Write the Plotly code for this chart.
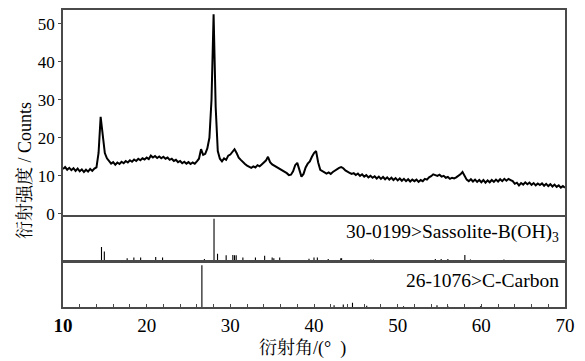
import numpy as np
import plotly.graph_objects as go

# ---------------- data ----------------
angle_start, angle_stop = 10.0, 70.0
counts = [
    11.8, 12.3, 11.6, 12.1,  11.5, 12.0, 11.3, 11.9,  11.2, 11.7, 11.0, 11.6,
    11.1, 11.8, 11.3, 11.9,  12.2, 16.0, 25.5, 20.5,  16.0, 14.6, 13.8, 13.2,
    13.6, 12.9, 13.5, 13.1,  13.7, 13.3, 13.9, 13.5,  14.1, 13.7, 14.3, 13.9,
    14.5, 14.1, 14.6, 14.3,  14.8, 14.4, 15.3, 14.8,  15.2, 14.7, 15.1, 14.6,
    15.0, 14.5, 14.8, 14.2,  14.5, 13.9, 14.2, 13.6,  13.9, 13.3, 13.7, 13.2,
    13.6, 13.1, 13.5, 13.2,  13.8, 14.5, 17.0, 15.5,  15.8, 17.2, 20.0, 30.0,
    52.5, 28.0, 16.5, 14.5,  13.8, 14.6, 14.2, 15.3,  15.6, 16.4, 17.0, 16.0,
    14.8, 14.2, 13.6, 13.1,  12.7, 12.4, 12.1, 12.5,  12.2, 12.8, 12.5, 13.0,
    13.4, 14.0, 15.0, 13.6,  13.0, 12.7, 12.2, 12.0,  11.7, 11.5, 11.0, 10.7,
    10.2, 10.3, 11.2, 12.8,  13.4, 11.2, 9.8, 10.5,   12.2, 13.2, 13.8, 15.0,
    16.0, 16.5, 13.5, 11.6,  11.2, 11.0, 10.6, 10.9,  10.5, 11.0, 11.4, 11.8,
    12.1, 12.3, 12.0, 11.4,  11.0, 10.8, 10.5, 10.7,  10.2, 10.6, 10.0, 10.4,
    9.8, 10.2, 9.6, 10.0,    9.5, 9.9, 9.3, 9.8,      9.2, 9.7, 9.1, 9.6,
    9.0, 9.5, 8.9, 9.4,      8.8, 9.3, 8.7, 9.2,      8.6, 9.1, 8.5, 9.0,
    8.6, 9.0, 8.4, 8.9,      8.6, 9.2, 9.0, 9.6,      9.9, 10.4, 10.2, 10.0,
    10.3, 9.8, 10.0, 9.5,    9.7, 9.2, 9.5, 9.3,      9.6, 9.9, 10.4, 11.0,
    10.0, 9.0, 8.6, 9.1,     8.5, 9.0, 8.4, 8.9,      8.3, 8.9, 8.2, 8.8,
    8.3, 8.9, 8.4, 9.0,      8.5, 9.1, 8.6, 9.2,      8.7, 9.2, 8.9, 8.6,
    7.9, 8.2, 7.5, 8.1,      7.7, 8.3, 7.8, 8.2,      7.6, 8.1, 7.5, 8.0,
    7.6, 8.0, 7.4, 7.9,      7.3, 7.8, 7.2, 7.7,      7.1, 7.5, 6.9, 7.3,
    6.9,
]
two_theta = np.linspace(angle_start, angle_stop, len(counts))

sassolite_pos = [14.60, 14.94, 17.67, 18.47, 19.28, 21.08, 21.90, 26.90, 28.05, 28.47,
                 29.50, 30.30, 30.50, 30.70, 31.50, 33.00, 34.10, 35.00, 35.20, 35.90,
                 39.40, 40.00, 40.40, 41.70, 43.20, 43.30, 46.80, 47.10, 54.50, 55.20,
                 56.00, 58.03, 58.70, 62.70]
sassolite_int = [32, 21, 5, 7, 7, 8, 7, 3, 100, 16,
                 12, 13, 12, 12, 7, 7, 11, 7, 5, 7,
                 4, 7, 7, 3, 5, 5, 2, 2, 3, 3,
                 3, 13, 2, 2]

carbon_pos = [26.60, 42.40, 43.50, 44.60, 46.30, 50.70, 54.70, 56.00, 59.90]
carbon_int = [100, 4, 6, 10, 3, 2, 4, 2, 2]

x_ticks = [10, 20, 30, 40, 50, 60, 70]
x_tick_text = ["<b>10</b>", "20", "30", "40", "50", "60", "70"]
x_tick_step = 2
y_ticks = [0, 10, 20, 30, 40, 50]

sassolite_label = "30-0199>Sassolite-B(OH)<sub>3</sub>"
carbon_label = "26-1076>C-Carbon"
y_title = "衍射强度 / Counts"
x_title = "衍射角/(°  )"

# ---------------- helpers ----------------
def sticks(pos, inten):
    xs, ys = [], []
    for p, h in zip(pos, inten):
        xs += [p, p, None]
        ys += [0, h, None]
    return xs, ys

label_of = dict(zip(x_ticks, x_tick_text))
all_ticks = list(range(x_ticks[0], x_ticks[-1] + 1, x_tick_step))
all_text = [label_of.get(t, "") for t in all_ticks]

FONT = "Liberation Serif, Times New Roman, Noto Serif CJK SC, Noto Sans CJK SC, serif"
AX = "#4a4a4a"

fig = go.Figure()
fig.add_trace(go.Scatter(x=two_theta, y=counts, mode="lines",
                         line=dict(color="black", width=2.0),
                         xaxis="x", yaxis="y", showlegend=False))
sx, sy = sticks(sassolite_pos, sassolite_int)
fig.add_trace(go.Scatter(x=sx, y=sy, mode="lines", line=dict(color="black", width=1.1),
                         xaxis="x2", yaxis="y2", showlegend=False))
cx, cy = sticks(carbon_pos, carbon_int)
fig.add_trace(go.Scatter(x=cx, y=cy, mode="lines", line=dict(color="black", width=1.1),
                         xaxis="x3", yaxis="y3", showlegend=False))

H = 299.0
dom_main = [93 / H, 1.0]
dom_s = [47 / H, 91 / H]
dom_c = [0.0, 44 / H]

box = dict(showline=True, linecolor=AX, linewidth=1.7, mirror=True, showgrid=False,
           zeroline=False)

fig.update_layout(
    width=585, height=361,
    margin=dict(l=63, r=20, t=8, b=54),
    paper_bgcolor="white", plot_bgcolor="white",
    font=dict(family=FONT, color="black", size=17),
    xaxis=dict(range=[10, 70], domain=[0, 1], anchor="y", showticklabels=False,
               ticks="", **box),
    xaxis2=dict(range=[10, 70], domain=[0, 1], anchor="y2", showticklabels=False,
                ticks="", **box),
    xaxis3=dict(range=[10, 70], domain=[0, 1], anchor="y3", tickmode="array",
                tickvals=all_ticks, ticktext=all_text, ticks="inside", ticklen=3,
                tickwidth=1.2, tickcolor=AX,
                tickfont=dict(family=FONT, size=19, color="black"), **box),
    yaxis=dict(range=[-0.2, 53.6], domain=dom_main, anchor="x", tickmode="array",
               tickvals=y_ticks, ticks="outside", ticklen=3, tickcolor=AX,
               tickfont=dict(family=FONT, size=17, color="black"), **box),
    yaxis2=dict(range=[0, 105], domain=dom_s, anchor="x2", showticklabels=False,
                ticks="", **box),
    yaxis3=dict(range=[0, 105], domain=dom_c, anchor="x3", showticklabels=False,
                ticks="", **box),
    annotations=[
        dict(text=sassolite_label, xref="paper", yref="paper", x=0.993, y=(307 - 233) / H,
             xanchor="right", yanchor="middle", showarrow=False,
             font=dict(family=FONT, size=19.5, color="black")),
        dict(text=carbon_label, xref="paper", yref="paper", x=0.993, y=(307 - 280) / H,
             xanchor="right", yanchor="middle", showarrow=False,
             font=dict(family=FONT, size=19.5, color="black")),
        dict(text=y_title, xref="paper", yref="paper", x=(25 - 63) / 502.0,
             y=(307 - 170) / H, xanchor="center", yanchor="middle", textangle=-90,
             showarrow=False, font=dict(family=FONT, size=18, color="black")),
        dict(text=x_title, xref="paper", yref="paper", x=(302 - 63) / 502.0,
             y=(307 - 349) / H, xanchor="center", yanchor="middle",
             showarrow=False, font=dict(family=FONT, size=18, color="black")),
    ],
)

fig.write_html("out.html")
